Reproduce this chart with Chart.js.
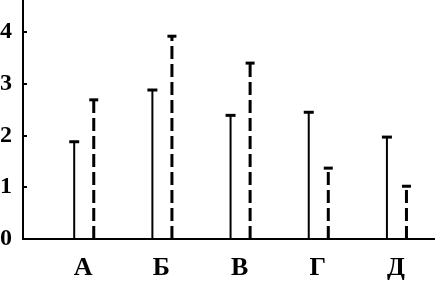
<!DOCTYPE html>
<html>
<head>
<meta charset="utf-8">
<script src="https://cdn.jsdelivr.net/npm/chart.js@4/dist/chart.umd.min.js"></script>
<style>
  html, body { margin: 0; padding: 0; background: #fff; }
  #wrap { width: 435px; height: 281px; position: relative; }
</style>
</head>
<body>
<div id="wrap"><canvas id="grafico"></canvas></div>
<script>
// данные
const categorias = ['А', 'Б', 'В', 'Г', 'Д'];
const serieSolida = [1.88, 2.88, 2.39, 2.45, 1.97];
const serieDiscontinua = [2.69, 3.92, 3.40, 1.37, 1.02];
const marcasY = [0, 1, 2, 3, 4];

const fuente = 'Liberation Serif, Times New Roman, serif';

// cada valor se dibuja como un trazo vertical con una pequeña tapa arriba
function trazo(i, v, desplazamiento, discontinuo) {
    return {
        data: [{ x: i + desplazamiento, y: 0 }, { x: i + desplazamiento, y: v }],
        borderColor: '#000',
        borderWidth: discontinuo ? 3 : 2,
        borderDash: discontinuo ? [13, 5] : [],
        pointStyle: 'line',
        pointRadius: [0, discontinuo ? 4.5 : 5],
        pointBorderWidth: [0, 3],
        pointBorderColor: '#000',
        pointHoverRadius: 0,
        fill: false,
        clip: false
    };
}

const datasets = [];
categorias.forEach((c, i) => {
    datasets.push(trazo(i, serieSolida[i], -0.115, false));
    datasets.push(trazo(i, serieDiscontinua[i], 0.135, true));
});

new Chart(document.getElementById('grafico').getContext('2d'), {
    type: 'line',
    data: { datasets: datasets },
    options: {
        responsive: true,
        maintainAspectRatio: false,
        animation: false,
        layout: { padding: 0, autoPadding: false },
        plugins: {
            legend: { display: false },
            tooltip: { enabled: false }
        },
        scales: {
            x: {
                type: 'linear',
                min: -0.77,
                max: 4.5,
                afterBuildTicks: s => { s.ticks = categorias.map((c, i) => ({ value: i })); },
                afterFit: s => {
                    s.height = 42;
                    s.paddingLeft = 0;
                    s.paddingRight = 0;
                },
                grid: { display: false, drawTicks: false },
                border: { color: '#000', width: 2 },
                ticks: {
                    color: '#000',
                    padding: 14,
                    maxRotation: 0,
                    font: { family: fuente, size: 26, weight: 'bold' },
                    callback: v => categorias[v] ?? ''
                }
            },
            y: {
                min: 0,
                max: 4.62,
                afterBuildTicks: s => { s.ticks = marcasY.map(v => ({ value: v })); },
                afterFit: s => {
                    s.width = 23;
                    s.paddingTop = 0;
                    s.paddingBottom = 0;
                },
                grid: { drawOnChartArea: false, tickLength: -4, color: '#000', lineWidth: 2 },
                border: { color: '#000', width: 2 },
                ticks: {
                    color: '#000',
                    padding: 15,
                    font: { family: fuente, size: 24, weight: 'bold' }
                }
            }
        }
    }
});
</script>
</body>
</html>
